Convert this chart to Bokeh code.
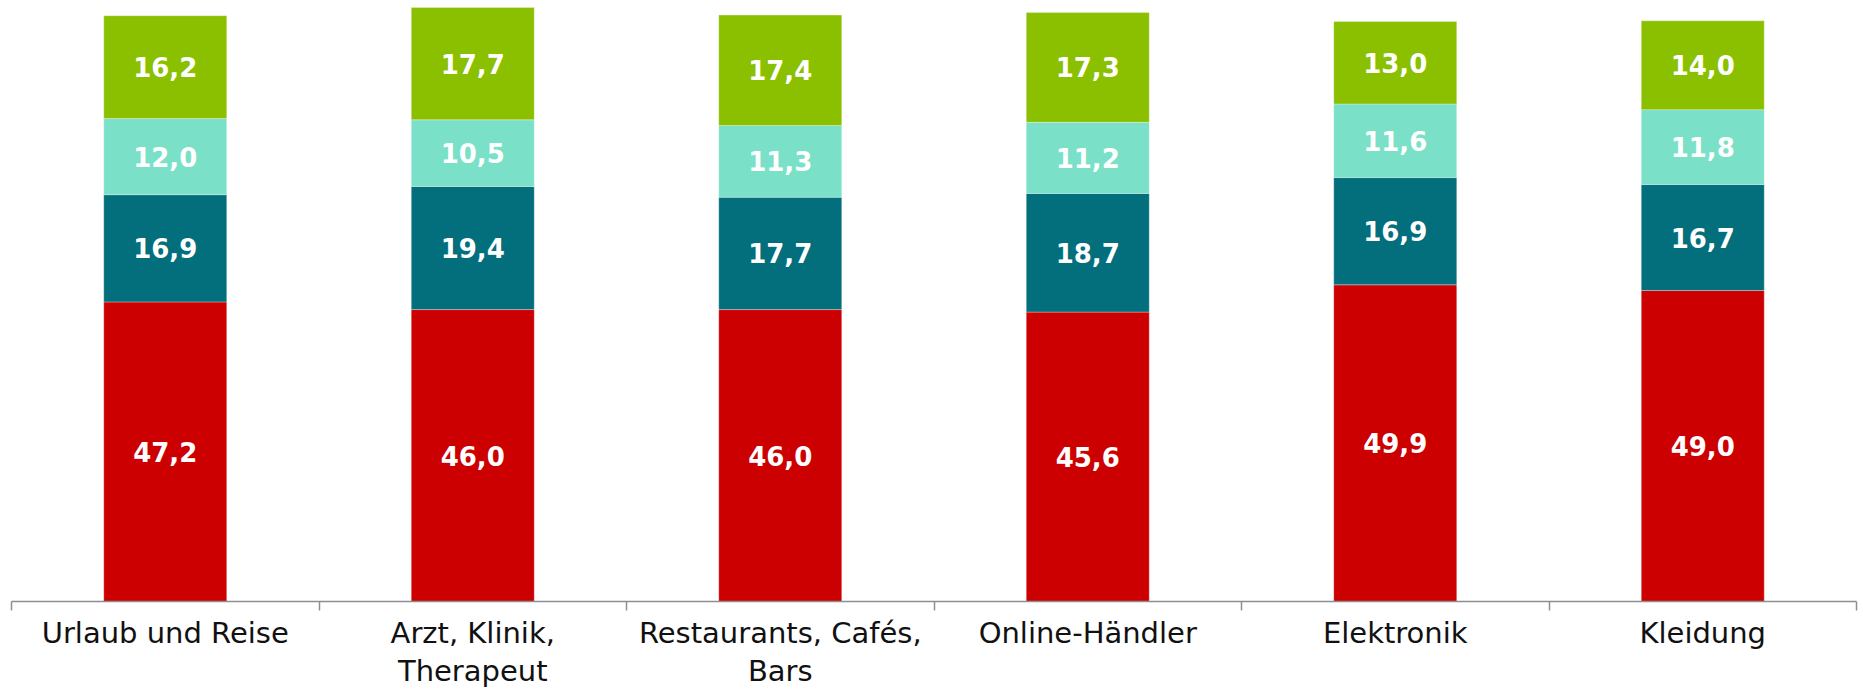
from bokeh.plotting import figure
from bokeh.models import Range1d, FixedTicker, ColumnDataSource
from bokeh.core.properties import value
from bokeh.embed import file_html
from bokeh.resources import INLINE

categories = ["Urlaub und Reise", "Arzt, Klinik,\nTherapeut", "Restaurants, Cafés,\nBars",
              "Online-Händler", "Elektronik", "Kleidung"]
series_red = [47.2, 46.0, 46.0, 45.6, 49.9, 49.0]
series_teal = [16.9, 19.4, 17.7, 18.7, 16.9, 16.7]
series_mint = [12.0, 10.5, 11.3, 11.2, 11.6, 11.8]
series_green = [16.2, 17.7, 17.4, 17.3, 13.0, 14.0]
colors = ["#CC0000", "#036E7C", "#7BE0C8", "#8AC000"]

series = [series_red, series_teal, series_mint, series_green]
names = ["red", "teal", "mint", "green"]
xs = [i + 0.5 for i in range(len(categories))]

data = {"x": xs}
for n, s in zip(names, series):
    data[n] = s
src = ColumnDataSource(data)

p = figure(width=1863, height=691, output_backend="svg", toolbar_location=None,
           x_range=Range1d(0, len(categories)), y_range=Range1d(0, 94.7),
           y_axis_location=None, min_border_left=11, min_border_right=7,
           min_border_top=0, min_border_bottom=90)
p.outline_line_color = None
p.xgrid.visible = False
p.ygrid.visible = False
p.background_fill_color = "white"

p.vbar_stack(names, x="x", width=0.4, color=colors, source=src,
             line_color="white", line_alpha=0.3, line_width=1)

# value labels
lx, ly, lt = [], [], []
for i in range(len(categories)):
    base = 0.0
    for s in series:
        v = s[i]
        lx.append(xs[i])
        ly.append(base + v / 2)
        lt.append(f"{v:.1f}".replace(".", ","))
        base += v
p.text(x=lx, y=ly, text=lt, text_align="center", text_baseline="middle",
       text_color="white", text_font=value("DejaVu Sans"), text_font_style="bold",
       text_font_size="26px")

ax = p.xaxis[0]
ax.ticker = FixedTicker(ticks=xs, minor_ticks=list(range(len(categories) + 1)))
ax.major_label_overrides = {x: c for x, c in zip(xs, categories)}
ax.axis_line_color = "#8E8E8E"
ax.axis_line_width = 1.5
ax.major_tick_line_color = None
ax.major_tick_out = 0
ax.major_tick_in = 0
ax.minor_tick_line_color = "#8E8E8E"
ax.minor_tick_line_width = 1.5
ax.minor_tick_out = 9
ax.minor_tick_in = 0
ax.major_label_standoff = 5
ax.major_label_text_font = "DejaVu Sans"
ax.major_label_text_font_size = "29px"
ax.major_label_text_color = "#111111"
ax.major_label_text_line_height = 1.13

open("out.html", "w").write(file_html(p, INLINE))
